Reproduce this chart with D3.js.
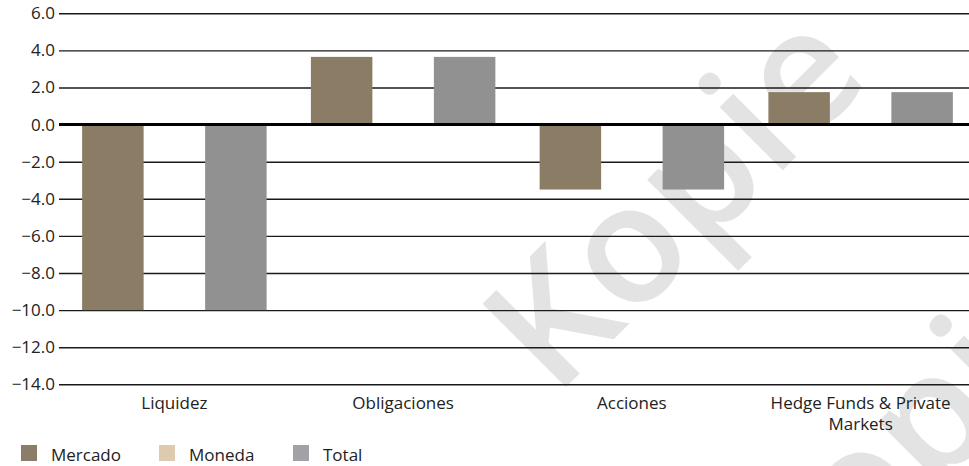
<!DOCTYPE html>
<html>
<head>
<meta charset="utf-8">
<script src="https://cdn.jsdelivr.net/npm/d3@7"></script>
<style>
  body { margin: 0; background: #fff; }
  text { font-family: "Open Sans", "Noto Sans", sans-serif; fill: #222; }
</style>
</head>
<body>
<div id="chart"></div>
<script>
// Data
const categories = ["Liquidez", "Obligaciones", "Acciones", "Hedge Funds & Private Markets"];
const seriesNames = ["Mercado", "Moneda", "Total"];
const mercado = [-10.0, 3.65, -3.5, 1.75];
const moneda = [0, 0, 0, 0];
const total = [-10.0, 3.65, -3.5, 1.75];
const yTicks = [6, 4, 2, 0, -2, -4, -6, -8, -10, -12, -14];

const barColors = ["#8b7d65", "#dccaaf", "#919191"];
const legendColors = ["#8c7d68", "#decaaf", "#a1a1a6"];

const width = 969, height = 466;
const margin = { top: 13.3, left: 60, right: -6, bottom: 466 - 384.3 };

const svg = d3.select("#chart").append("svg")
  .attr("width", width)
  .attr("height", height);

// faint "Kopie" watermark behind the chart
[[555, 398], [786, 640]].forEach(([wx, wy]) => {
  svg.append("text")
    .attr("transform", `translate(${wx},${wy}) rotate(-45)`)
    .attr("font-size", 165)
    .attr("font-weight", 600)
    .style("fill", "#e3e3e3")
    .text("Kopie");
});

const x0 = d3.scaleBand()
  .domain(categories)
  .range([margin.left, width - margin.right])
  .padding(0);

const x1 = d3.scaleBand()
  .domain(seriesNames)
  .range([0, x0.bandwidth()])
  .paddingInner(0)
  .paddingOuter(0.36);

const y = d3.scaleLinear()
  .domain([-14, 6])
  .range([height - margin.bottom, margin.top]);

// gridlines + labels
const yAxis = svg.append("g")
  .attr("transform", `translate(${margin.left - 1},0)`)
  .call(d3.axisLeft(y).tickValues(yTicks).tickFormat(d3.format(".1f")).tickSize(0).tickPadding(4));
yAxis.select(".domain").remove();
yAxis.selectAll(".tick text")
  .attr("font-size", 17)
  .style("font-family", "'Open Sans', sans-serif")
  .style("fill", "#222");
yAxis.selectAll(".tick line")
  .attr("x2", width)
  .attr("stroke", "#1a1a1a")
  .attr("stroke-width", 1.4);

// bars
const rows = categories.map((c, i) => ({ cat: c, vals: [mercado[i], moneda[i], total[i]] }));
const groups = svg.append("g").selectAll("g")
  .data(rows)
  .join("g")
  .attr("transform", d => `translate(${x0(d.cat)},0)`);

groups.selectAll("rect")
  .data(d => d.vals.map((v, j) => ({ key: seriesNames[j], v, j })))
  .join("rect")
  .attr("x", d => x1(d.key))
  .attr("width", x1.bandwidth())
  .attr("y", d => y(Math.max(0, d.v)))
  .attr("height", d => Math.abs(y(d.v) - y(0)))
  .attr("fill", d => barColors[d.j]);

// zero line on top
svg.append("line")
  .attr("x1", margin.left - 1)
  .attr("x2", width)
  .attr("y1", y(0))
  .attr("y2", y(0))
  .attr("stroke", "#000")
  .attr("stroke-width", 3);

// category labels, wrapped like the original
const labelLines = {
  "Hedge Funds & Private Markets": ["Hedge Funds & Private", "Markets"]
};
const xLabels = svg.append("g");
categories.forEach(c => {
  const lines = labelLines[c] || [c];
  const t = xLabels.append("text")
    .attr("x", x0(c) + x0.bandwidth() / 2)
    .attr("y", 409)
    .attr("text-anchor", "middle")
    .attr("font-size", 17);
  lines.forEach((ln, k) => {
    t.append("tspan")
      .attr("x", x0(c) + x0.bandwidth() / 2)
      .attr("dy", k === 0 ? 0 : 21)
      .text(ln);
  });
});

// legend
const legendX = [21, 159, 293];
const legend = svg.append("g");
seriesNames.forEach((s, i) => {
  legend.append("rect")
    .attr("x", legendX[i])
    .attr("y", 445)
    .attr("width", 16)
    .attr("height", 16)
    .attr("fill", legendColors[i]);
  legend.append("text")
    .attr("x", legendX[i] + 30)
    .attr("y", 461)
    .attr("font-size", 17)
    .text(s);
});
</script>
</body>
</html>
